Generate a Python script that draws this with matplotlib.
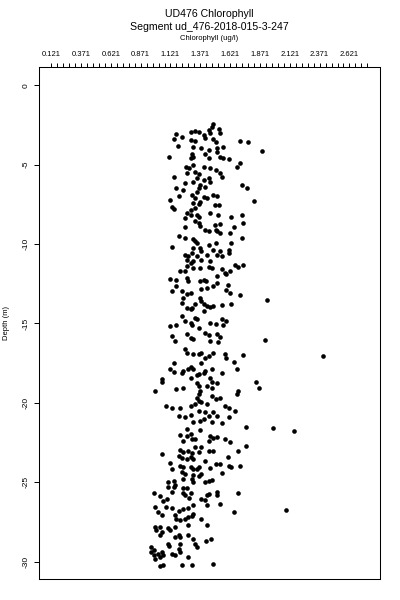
import numpy as np
import matplotlib
matplotlib.use("Agg")
import matplotlib.pyplot as plt

plt.rcParams['font.family'] = ['Liberation Sans', 'DejaVu Sans']

TITLE = "UD476 Chlorophyll"
SUBTITLE = "Segment ud_476-2018-015-3-247"
X_LABEL = "Chlorophyll (ug/l)"
Y_LABEL = "Depth (m)"

# (chlorophyll ug/l, depth m), split in depth bands
upper_pts = [
    (1.48, -2.41), (1.47, -2.62), (1.44, -2.83), (1.45, -3.03), (1.53, -2.76),
    (1.54, -3.03), (1.17, -3.09), (1.22, -3.25), (1.29, -2.97), (1.33, -2.89),
    (1.36, -2.93), (1.40, -3.14), (1.41, -3.35), (1.15, -3.39), (1.29, -3.45),
    (1.33, -3.52), (1.48, -3.39), (1.50, -3.56), (1.70, -3.52), (1.77, -3.60),
    (1.18, -3.81), (1.31, -3.87), (1.38, -3.97), (1.44, -4.08), (1.51, -3.97),
    (1.56, -3.87), (1.89, -4.14), (1.11, -4.50), (1.30, -4.35), (1.29, -4.60),
    (1.31, -4.50), (1.41, -4.35), (1.44, -4.56), (1.51, -4.22), (1.54, -4.50),
    (1.56, -4.60), (1.61, -4.65), (1.70, -4.92), (1.68, -5.13), (1.25, -5.13),
    (1.28, -5.23), (1.31, -5.02), (1.40, -5.13), (1.45, -5.23), (1.50, -5.34),
    (1.26, -5.54), (1.33, -5.44), (1.36, -5.61), (1.54, -5.54), (1.55, -5.76),
    (1.15, -5.76), (1.34, -5.86), (1.40, -5.96), (1.44, -5.86), (1.45, -6.07),
    (1.24, -6.17), (1.31, -6.07), (1.37, -6.28), (1.41, -6.38), (1.17, -6.48),
    (1.23, -6.59), (1.36, -6.48), (1.34, -6.70), (1.72, -6.28), (1.76, -6.48),
    (1.19, -6.97), (1.30, -6.91), (1.33, -7.11), (1.40, -7.05), (1.43, -7.11),
    (1.48, -6.91), (1.51, -6.97), (1.12, -7.22), (1.13, -7.64), (1.15, -7.80),
    (1.31, -7.43), (1.36, -7.47), (1.37, -7.33), (1.33, -7.74), (1.29, -7.85),
    (1.49, -7.53), (1.53, -7.53), (1.82, -7.26), (1.26, -8.05), (1.24, -8.37),
    (1.29, -8.16), (1.34, -8.16), (1.36, -8.27), (1.45, -8.05), (1.52, -8.16),
    (1.63, -8.27), (1.72, -8.16), (1.33, -8.58), (1.36, -8.68), (1.37, -8.85),
    (1.49, -8.79), (1.54, -8.73), (1.65, -8.90), (1.73, -8.68), (1.24, -8.93),
    (1.41, -9.10), (1.44, -9.21), (1.50, -9.10), (1.51, -9.21), (1.54, -9.31),
    (1.62, -9.31), (1.72, -9.62), (1.19, -9.52), (1.24, -9.62), (1.31, -9.69),
    (1.33, -9.84), (1.34, -9.94), (1.44, -10.04), (1.50, -9.94), (1.63, -9.94),
]

middle_pts = [
    (1.13, -10.19), (1.31, -10.25), (1.37, -10.25), (1.38, -10.46), (1.30, -10.57),
    (1.48, -10.36), (1.54, -10.46), (1.61, -10.36), (1.61, -10.57), (1.24, -10.67),
    (1.27, -10.78), (1.34, -10.78), (1.43, -10.67), (1.51, -10.67), (1.55, -10.73),
    (1.26, -10.99), (1.29, -11.19), (1.31, -11.09), (1.38, -10.99), (1.45, -11.09),
    (1.26, -11.41), (1.31, -11.51), (1.37, -11.51), (1.44, -11.44), (1.47, -11.51),
    (1.55, -11.57), (1.66, -11.30), (1.73, -11.30), (1.20, -11.72), (1.24, -11.68),
    (1.58, -11.82), (1.62, -11.72), (1.69, -11.47), (1.12, -12.18), (1.17, -12.24),
    (1.26, -12.13), (1.27, -12.35), (1.37, -12.35), (1.40, -12.24), (1.42, -12.35),
    (1.51, -12.03), (1.59, -11.88), (1.17, -12.66), (1.13, -12.93), (1.38, -12.81),
    (1.43, -12.76), (1.48, -12.66), (1.51, -12.45), (1.60, -12.56), (1.59, -12.87),
    (1.62, -13.08), (1.22, -12.98), (1.26, -13.14), (1.29, -13.08), (1.70, -13.23),
    (1.93, -13.50), (1.37, -13.39), (1.38, -13.56), (1.23, -13.39), (1.22, -13.70),
    (1.26, -14.02), (1.29, -14.12), (1.30, -14.02), (1.33, -13.77), (1.40, -13.77),
    (1.43, -13.92), (1.45, -13.98), (1.48, -13.92), (1.40, -14.23), (1.55, -13.81),
    (1.63, -13.77), (1.22, -14.55), (1.24, -14.86), (1.29, -14.96), (1.30, -15.13),
    (1.33, -14.65), (1.34, -14.75), (1.45, -14.96), (1.50, -15.02), (1.55, -14.75),
    (1.56, -15.07), (1.59, -14.86), (1.12, -15.17), (1.17, -15.07), (1.36, -15.27),
    (1.13, -15.80), (1.16, -16.11), (1.26, -15.69), (1.29, -15.90), (1.31, -16.01),
    (1.41, -15.59), (1.44, -15.74), (1.51, -15.69), (1.54, -15.86), (1.52, -16.15),
    (1.91, -16.07), (1.45, -16.11), (1.24, -16.64), (1.26, -16.84), (1.31, -16.95),
    (1.36, -16.95), (1.38, -16.89), (1.41, -17.16), (1.44, -17.06), (1.48, -16.84),
    (1.58, -16.95), (1.59, -17.16), (1.73, -17.01), (2.40, -17.06), (1.15, -17.51),
    (1.38, -17.51), (1.29, -17.72), (1.31, -17.85), (1.27, -17.89), (1.23, -18.00),
    (1.22, -18.14), (1.12, -17.89), (1.15, -18.06), (1.47, -17.85), (1.41, -18.00),
    (1.40, -18.10), (1.65, -17.43), (1.68, -17.89), (1.55, -18.14), (1.29, -18.41),
    (1.34, -18.27), (1.36, -18.20), (1.45, -18.41), (1.47, -18.69), (1.05, -18.52),
    (1.05, -18.69), (1.34, -18.73), (1.36, -18.94), (1.43, -18.94), (1.47, -19.04),
    (1.51, -18.73), (0.99, -19.25), (1.17, -19.15), (1.23, -19.04), (1.37, -19.25),
    (1.36, -19.46), (1.34, -19.67), (1.36, -19.88), (1.38, -19.98), (1.43, -20.09),
    (1.47, -19.57), (1.50, -19.77), (1.54, -19.67), (1.69, -19.25), (1.68, -19.46),
    (1.84, -18.69), (1.86, -19.04), (1.08, -20.19), (1.13, -20.36), (1.20, -20.36),
    (1.29, -20.19), (1.33, -20.09), (1.58, -20.19), (1.61, -20.30), (1.36, -20.51),
    (1.41, -20.57), (1.48, -20.57), (1.66, -20.51), (1.19, -20.86), (1.24, -20.92),
    (1.29, -20.78), (1.44, -20.86), (1.51, -20.82), (1.61, -20.92),
]

lower_pts = [
    (1.31, -21.24), (1.37, -21.14), (1.40, -21.03), (1.47, -21.24), (1.55, -21.30),
    (1.75, -21.51), (1.98, -21.59), (2.16, -21.76), (1.26, -21.66), (1.37, -21.72),
    (1.20, -22.02), (1.26, -22.08), (1.29, -21.97), (1.30, -22.29), (1.23, -22.39),
    (1.33, -22.29), (1.45, -22.08), (1.48, -22.22), (1.51, -22.14), (1.44, -22.39),
    (1.58, -22.29), (1.62, -22.49), (1.75, -22.71), (1.33, -22.77), (1.38, -22.77),
    (1.20, -22.98), (1.23, -23.12), (1.27, -23.02), (1.30, -23.18), (1.36, -23.12),
    (1.44, -23.02), (1.48, -23.02), (1.69, -23.06), (1.05, -23.23), (1.19, -23.33),
    (1.22, -23.48), (1.26, -23.54), (1.29, -23.40), (1.31, -23.54), (1.41, -23.69),
    (1.60, -23.40), (1.12, -23.81), (1.13, -24.17), (1.20, -23.96), (1.23, -24.02),
    (1.29, -24.06), (1.31, -24.17), (1.34, -24.17), (1.36, -24.06), (1.50, -23.85),
    (1.54, -23.85), (1.45, -24.11), (1.61, -23.96), (1.63, -24.02), (1.70, -23.96),
    (1.22, -24.38), (1.24, -24.48), (1.31, -24.53), (1.36, -24.59), (1.38, -24.48),
    (1.55, -24.44), (1.23, -24.80), (1.30, -24.80), (1.31, -25.00), (1.10, -25.00),
    (1.15, -24.90), (1.16, -25.15), (1.41, -25.00), (1.44, -24.90), (1.47, -24.86),
    (1.10, -25.32), (1.15, -25.32), (1.23, -25.36), (1.26, -25.36), (0.98, -25.67),
    (1.13, -25.63), (1.23, -25.67), (1.29, -25.67), (1.44, -25.74), (1.51, -25.63),
    (1.69, -25.67), (1.03, -25.88), (1.06, -26.16), (1.09, -26.05), (1.24, -25.82),
    (1.28, -26.01), (1.38, -26.05), (1.43, -25.80), (1.41, -26.10), (1.51, -25.80),
    (1.54, -26.37), (1.65, -26.89), (2.09, -26.76), (0.99, -26.57), (1.08, -26.57),
    (1.13, -26.64), (1.19, -26.79), (1.23, -26.68), (1.27, -26.64), (1.31, -26.47),
    (1.43, -26.43), (1.02, -26.89), (1.05, -27.06), (1.16, -27.10), (1.17, -27.31),
    (1.20, -27.41), (1.24, -27.31), (1.27, -27.20), (1.30, -27.14), (1.31, -26.99),
    (1.38, -27.35), (1.43, -27.68), (0.99, -27.83), (1.00, -28.04), (1.03, -27.83),
    (1.05, -28.14), (1.03, -28.36), (1.10, -27.89), (1.12, -28.04), (1.16, -27.83),
    (1.16, -28.46), (1.19, -28.36), (1.20, -28.46), (1.27, -27.73), (1.27, -28.36),
    (1.31, -28.56), (1.33, -28.88), (1.34, -29.08), (1.42, -28.73), (1.46, -28.56),
    (1.10, -28.88), (1.11, -29.02), (1.20, -28.88), (1.19, -29.19), (1.20, -29.40),
    (1.16, -29.61), (1.13, -29.50), (1.06, -29.61), (1.03, -29.71), (1.02, -29.50),
    (0.96, -29.08), (0.98, -29.30), (0.98, -29.61), (0.99, -29.82), (0.96, -29.40),
    (1.05, -29.40), (1.27, -29.71), (1.03, -30.28), (1.06, -30.19), (1.22, -30.24),
    (1.30, -30.19), (1.48, -30.15),
]

x_minor = np.arange(0.121, 2.80, 0.05)
x_major_labels = ["0.121", "0.371", "0.621", "0.871", "1.121", "1.371",
                  "1.621", "1.871", "2.121", "2.371", "2.621"]
y_ticks = [0, -5, -10, -15, -20, -25, -30]

pts = np.array(upper_pts + middle_pts + lower_pts)
chl = pts[:, 0]
depth = pts[:, 1]

W, H = 400, 600
fig = plt.figure(figsize=(4, 6), dpi=100)
left, right, top, bottom = 38.5, 380, 67, 579
ax = fig.add_axes([left / W, 1 - bottom / H, (right - left) / W, (bottom - top) / H])

ax.scatter(chl, depth, s=11, c='black', marker='o', linewidths=0)

ax.set_xlim(0.015, 2.877)
ax.set_ylim(-31.1, 1.15)

ax.xaxis.tick_top()
labels = [x_major_labels[i // 5] if i % 5 == 0 and i // 5 < len(x_major_labels) else ''
          for i in range(len(x_minor))]
ax.set_xticks(x_minor)
ax.set_xticklabels(labels)
ax.tick_params(axis='x', direction='out', length=3.2, width=0.7, pad=3, labelsize=5.5)

ax.set_yticks(y_ticks)
ax.set_yticklabels([str(v) for v in y_ticks], rotation=90, va='center')
ax.tick_params(axis='y', direction='out', length=3.6, width=0.7, pad=3, labelsize=6)

for sp in ax.spines.values():
    sp.set_linewidth(0.75)

cx = (left + right) / 2 / W
fig.text(cx, 1 - 14 / H, TITLE, ha='center', va='center', fontsize=7.6)
fig.text(cx, 1 - 27 / H, SUBTITLE, ha='center', va='center', fontsize=7.6)
fig.text(cx, 1 - 39 / H, X_LABEL, ha='center', va='center', fontsize=5.5)
fig.text(7 / W, 1 - (top + bottom) / 2 / H, Y_LABEL, ha='center', va='center',
         rotation=90, fontsize=5.5)

fig.savefig("out.png", dpi=100)
